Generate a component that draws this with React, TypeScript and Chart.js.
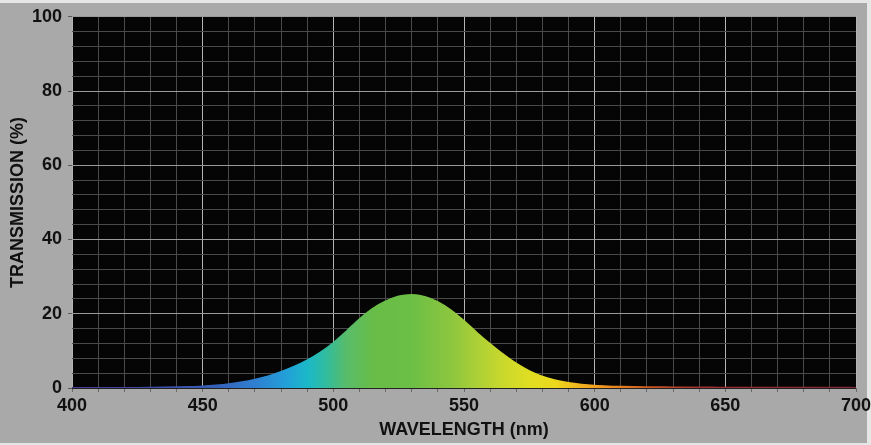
import { useEffect, useRef } from "react";
import { Chart, registerables } from "chart.js";

Chart.register(...registerables);

// Wavelength samples (nm)
const wavelengths: number[] = [
  400, 405, 410, 415, 420, 425, 430, 435, 440, 445,
  450, 455, 460, 465, 470, 475, 480, 485, 490, 495,
  500, 505, 510, 515, 520, 525, 530, 535, 540, 545,
  550, 555, 560, 565, 570, 575, 580, 585, 590, 595,
  600, 605, 610, 615, 620, 625, 630, 635, 640, 645,
  650, 655, 660, 665, 670, 675, 680, 685, 690, 695, 700,
];

// Transmission (%)
const transmission: number[] = [
  0.05, 0.05, 0.06, 0.07, 0.08, 0.1, 0.13, 0.18, 0.25, 0.35,
  0.5, 0.75, 1.1, 1.6, 2.3, 3.2, 4.4, 5.8, 7.5, 9.6,
  12.2, 15.3, 18.6, 21.4, 23.4, 24.7, 25.1, 24.6, 23.2, 21.0,
  18.1, 14.9, 11.9, 9.1, 6.6, 4.6, 3.1, 2.1, 1.4, 0.95,
  0.65, 0.48, 0.38, 0.32, 0.28, 0.25, 0.22, 0.2, 0.18, 0.17,
  0.16, 0.15, 0.14, 0.14, 0.13, 0.13, 0.12, 0.12, 0.12, 0.11, 0.1,
];

const xTickLabels: number[] = [400, 450, 500, 550, 600, 650, 700];
const yTickLabels: number[] = [0, 20, 40, 60, 80, 100];

const xTitle = "WAVELENGTH (nm)";
const yTitle = "TRANSMISSION (%)";

// Spectrum colour stops (wavelength, colour)
const spectrumWavelengths: number[] = [400, 430, 455, 470, 482, 490, 497, 505, 515, 530, 545, 555, 565, 575, 585, 595, 605, 620, 640, 700];
const spectrumColors: string[] = [
  "#4b3a96", "#3f4aa8", "#3560b8", "#2f7fd0", "#22a0d8", "#1bb8c8", "#30bca0", "#58bc6a",
  "#68bd48", "#6cbf45", "#8cc63f", "#acd036", "#cad82c", "#e0de22", "#ecd81c", "#f0b020",
  "#f09020", "#d05a20", "#a03030", "#802838",
];

const FONT = "'Liberation Sans', Arial, sans-serif";

export default function App() {
  const canvasRef = useRef<HTMLCanvasElement | null>(null);

  useEffect(() => {
    const canvas = canvasRef.current;
    if (!canvas) return;

    const gradientFor = (chart: any) => {
      const { chartArea, scales } = chart;
      if (!chartArea) return "transparent";
      const x0 = scales.x.getPixelForValue(400);
      const x1 = scales.x.getPixelForValue(700);
      const g = chart.ctx.createLinearGradient(x0, 0, x1, 0);
      spectrumWavelengths.forEach((w, i) => {
        g.addColorStop((w - 400) / 300, spectrumColors[i]);
      });
      return g;
    };

    const bgPlugin = {
      id: "bg",
      beforeDraw(chart: any) {
        const { ctx, chartArea, width, height } = chart;
        ctx.save();
        ctx.fillStyle = "#e6e6e6";
        ctx.fillRect(0, 0, width, height);
        ctx.fillStyle = "#a9a9a9";
        ctx.fillRect(0, 3, width - 4, height - 5);
        ctx.fillStyle = "#050505";
        ctx.fillRect(chartArea.left, chartArea.top, chartArea.right - chartArea.left, chartArea.bottom - chartArea.top);
        ctx.restore();
      },
    };

    const chart = new Chart(canvas, {
      type: "line",
      data: {
        datasets: [
          {
            data: wavelengths.map((w, i) => ({ x: w, y: transmission[i] })),
            fill: "origin",
            backgroundColor: (ctx: any) => gradientFor(ctx.chart),
            borderColor: (ctx: any) => gradientFor(ctx.chart),
            borderWidth: 1.5,
            pointRadius: 0,
            cubicInterpolationMode: "monotone",
          },
        ],
      },
      plugins: [bgPlugin],
      options: {
        responsive: false,
        animation: false,
        devicePixelRatio: 1,
        layout: { padding: { left: 0, right: 15, top: 12, bottom: 0 } },
        plugins: { legend: { display: false }, tooltip: { enabled: false } },
        scales: {
          x: {
            type: "linear",
            min: 400,
            max: 700,
            border: { display: false },
            afterFit: (scale: any) => {
              scale.height = 57;
              scale.paddingLeft = 0;
              scale.paddingRight = 0;
            },
            grid: {
              color: (ctx: any) => (ctx.tick && xTickLabels.includes(ctx.tick.value) ? "#b4b4b4" : "#4a4a4a"),
              tickColor: "#6a6a6a",
              tickLength: 4,
              lineWidth: 1,
            },
            ticks: {
              stepSize: 10,
              autoSkip: false,
              maxRotation: 0,
              padding: 3,
              color: "#111111",
              font: { family: FONT, size: 18, weight: "bold" },
              callback: (v: any) => (xTickLabels.includes(Number(v)) ? String(v) : ""),
            },
            title: {
              display: true,
              text: xTitle,
              color: "#111111",
              font: { family: FONT, size: 18, weight: "bold" },
              padding: { top: 4, bottom: 4 },
            },
          },
          y: {
            type: "linear",
            min: 0,
            max: 100,
            border: { display: false },
            afterFit: (scale: any) => {
              scale.width = 72;
            },
            grid: {
              color: (ctx: any) => {
                if (!ctx.tick) return "#4a4a4a";
                if (ctx.tick.value === 0) return "#222222";
                return yTickLabels.includes(ctx.tick.value) ? "#9a9a9a" : "#4a4a4a";
              },
              tickColor: (ctx: any) => (ctx.tick && yTickLabels.includes(ctx.tick.value) ? "#5a5a5a" : "rgba(0,0,0,0)"),
              tickLength: 4,
              lineWidth: 1,
            },
            ticks: {
              stepSize: 4,
              autoSkip: false,
              padding: 6,
              color: "#111111",
              font: { family: FONT, size: 18, weight: "bold" },
              callback: (v: any) => (yTickLabels.includes(Number(v)) ? String(v) : ""),
            },
            title: {
              display: true,
              text: yTitle,
              color: "#111111",
              font: { family: FONT, size: 18, weight: "bold" },
              padding: { top: 7, bottom: 2 },
            },
          },
        },
      },
    } as any);

    return () => chart.destroy();
  }, []);

  return (
    <div style={{ position: "fixed", left: 0, top: 0, width: 871, height: 445 }}>
      <canvas ref={canvasRef} width={871} height={445} style={{ display: "block", width: 871, height: 445 }} />
    </div>
  );
}
